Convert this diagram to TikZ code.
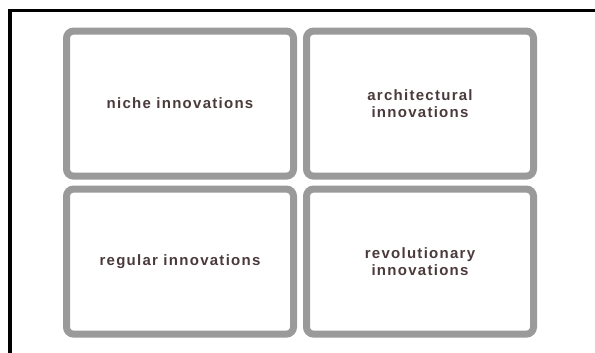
\documentclass[tikz,border=0pt]{standalone}
\usepackage{fontspec}
\usepackage{tikz}
\usetikzlibrary{positioning}
\newfontfamily\cellfont[LetterSpace=8.5,UprightFont={* Bold}]{Liberation Sans}
\definecolor{cellgray}{RGB}{154,154,154}
\definecolor{celltext}{RGB}{75,58,60}

\begin{document}
\begin{tikzpicture}[
                x=1pt,y=1pt,
                node distance=6pt,
                cell/.style={draw=cellgray,line width=7pt,rounded corners=7pt,minimum width=227pt,minimum height=145pt,align=center,text=celltext,font=\cellfont\fontsize{15}{17.5}\selectfont}
            ]
                \useasboundingbox (0,0) rectangle (595,-353);
                \draw[line width=3.5pt] (10,-353) -- (10,-10.5) -- (595,-10.5);
                \node (a) [cell] at (180,-103.6) {niche innovations};
                \node (b) [cell,right=of a] {architectural\\innovations};
                \node (c) [cell,below=of a] {regular innovations};
                \node (d) [cell,right=of c] {revolutionary\\innovations};
            \end{tikzpicture}
\end{document}
